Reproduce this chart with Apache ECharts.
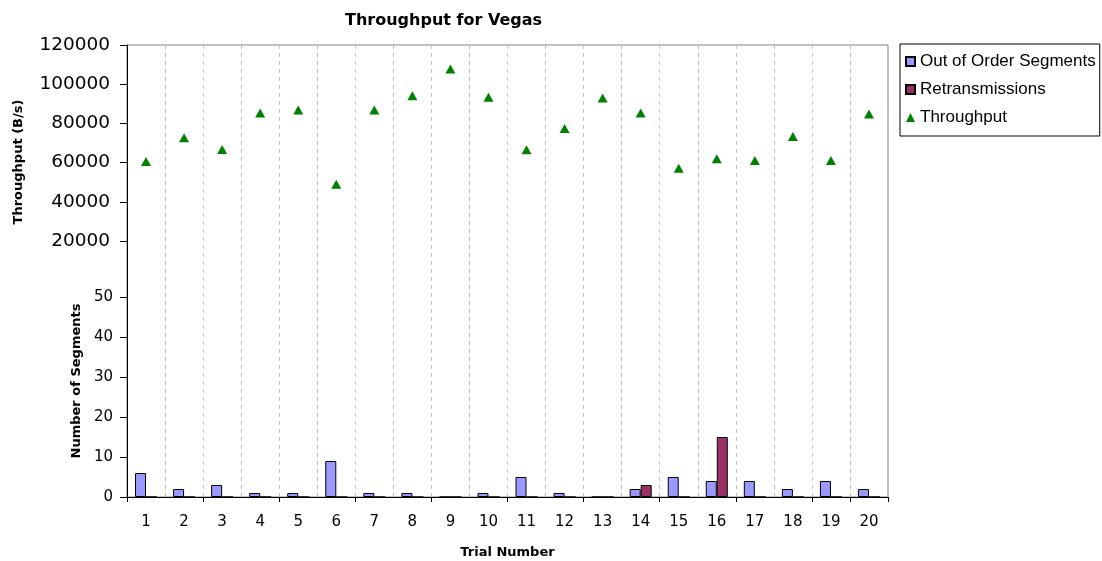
<!DOCTYPE html>
<html>
<head>
<meta charset="utf-8">
<script src="https://cdn.jsdelivr.net/npm/echarts@6/dist/echarts.min.js"></script>
<style>
  html, body { margin: 0; padding: 0; background: #fff; }
  #chart { width: 1102px; height: 561px; }
</style>
</head>
<body>
<div id="chart"></div>
<script>
// data
const trials = ["1","2","3","4","5","6","7","8","9","10","11","12","13","14","15","16","17","18","19","20"];
const outOfOrder = [6, 2, 3, 1, 1, 9, 1, 1, 0, 1, 5, 1, 0, 2, 5, 4, 4, 2, 4, 2];
const retransmissions = [0, 0, 0, 0, 0, 0, 0, 0, 0, 0, 0, 0, 0, 3, 0, 15, 0, 0, 0, 0];
const throughput = [60500, 72700, 66700, 85300, 86800, 48900, 86800, 94100, 107800, 93400,
                    66500, 77400, 92900, 85300, 57100, 62000, 61100, 73300, 61100, 84800];

const chart = echarts.init(document.getElementById("chart"));

const labelFont = "DejaVu Sans";
const boldName = { fontFamily: "DejaVu Sans", fontWeight: "bold", fontSize: 13, color: "#000" };
const plain = (v) => String(v);

const option = {
  backgroundColor: "#fff",
  animation: false,
  title: {
    text: "Throughput for Vegas",
    left: 340,
    top: 8,
    textStyle: { fontFamily: "DejaVu Sans", fontWeight: "bold", fontSize: 16, color: "#000" },
  },
  legend: {
    orient: "vertical",
    left: 900,
    top: 44,
    padding: [9, 4, 10, 5],
    itemGap: 11,
    itemWidth: 9,
    itemHeight: 9,
    borderColor: "#000",
    borderWidth: 1,
    backgroundColor: "#fff",
    textStyle: { fontFamily: "Liberation Sans", fontSize: 17, color: "#000" },
    data: [
      { name: "Out of Order Segments", icon: "rect" },
      { name: "Retransmissions", icon: "rect" },
      { name: "Throughput", icon: "triangle" },
    ],
  },
  grid: [
    // frame + vertical dashed lines over the whole plot area
    { left: 127, right: 214, top: 45, bottom: 64, show: true, borderColor: "#808080", borderWidth: 1 },
    // throughput part
    { left: 127, right: 214, top: 45, height: 196 },
    // segments part
    { left: 127, right: 214, top: 297, bottom: 64 },
  ],
  xAxis: [
    {
      gridIndex: 0,
      type: "category",
      data: trials,
      axisLine: { show: false },
      axisTick: { show: false },
      axisLabel: { show: false },
      splitLine: { show: true, interval: 0, lineStyle: { color: "#c0c0c0", type: [4, 4], width: 1 } },
    },
    {
      gridIndex: 1,
      type: "category",
      data: trials,
      show: false,
    },
    {
      gridIndex: 2,
      type: "category",
      data: trials,
      axisLine: { show: true, lineStyle: { color: "#000", width: 1 } },
      axisTick: { show: true, interval: 1, length: 5, lineStyle: { color: "#000" } },
      axisLabel: { interval: 0, margin: 18, fontFamily: labelFont, fontSize: 15, color: "#000" },
      name: "Trial Number",
      nameLocation: "middle",
      nameGap: 49,
      nameTextStyle: boldName,
    },
  ],
  yAxis: [
    {
      gridIndex: 0,
      type: "value",
      min: 0,
      max: 1,
      axisLine: { show: true, lineStyle: { color: "#000", width: 1 } },
      axisTick: { show: false },
      axisLabel: { show: false },
      splitLine: { show: false },
    },
    {
      gridIndex: 1,
      type: "value",
      min: 20000,
      max: 120000,
      interval: 20000,
      axisLine: { show: false },
      axisTick: { show: true, length: 7, lineStyle: { color: "#000" } },
      axisLabel: { margin: 17, fontFamily: labelFont, fontSize: 18.5, color: "#000", formatter: plain },
      splitLine: { show: false },
      name: "Throughput (B/s)",
      nameLocation: "middle",
      nameRotate: 90,
      nameGap: 102,
      nameTextStyle: Object.assign({ padding: [0, 38, 0, 0] }, boldName),
    },
    {
      gridIndex: 2,
      type: "value",
      min: 0,
      max: 50,
      interval: 10,
      axisLine: { show: false },
      axisTick: { show: true, length: 7, lineStyle: { color: "#000" } },
      axisLabel: { margin: 14, fontFamily: labelFont, fontSize: 15, color: "#000", formatter: plain },
      splitLine: { show: false },
      name: "Number of Segments",
      nameLocation: "middle",
      nameRotate: 90,
      nameGap: 43,
      nameTextStyle: Object.assign({ padding: [0, 0, 0, 32] }, boldName),
    },
  ],
  series: [
    {
      name: "Out of Order Segments",
      type: "bar",
      xAxisIndex: 2,
      yAxisIndex: 2,
      data: outOfOrder,
      barWidth: 11,
      barGap: "0%",
      itemStyle: { color: "#9999ff", borderColor: "#000", borderWidth: 1 },
    },
    {
      name: "Retransmissions",
      type: "bar",
      xAxisIndex: 2,
      yAxisIndex: 2,
      data: retransmissions,
      barWidth: 11,
      barGap: "0%",
      itemStyle: { color: "#993366", borderColor: "#000", borderWidth: 1 },
    },
    {
      name: "Throughput",
      type: "scatter",
      xAxisIndex: 1,
      yAxisIndex: 1,
      data: throughput,
      symbol: "triangle",
      symbolSize: [10, 9],
      itemStyle: { color: "#008000", opacity: 1 },
    },
  ],
};

chart.setOption(option);
</script>
</body>
</html>
